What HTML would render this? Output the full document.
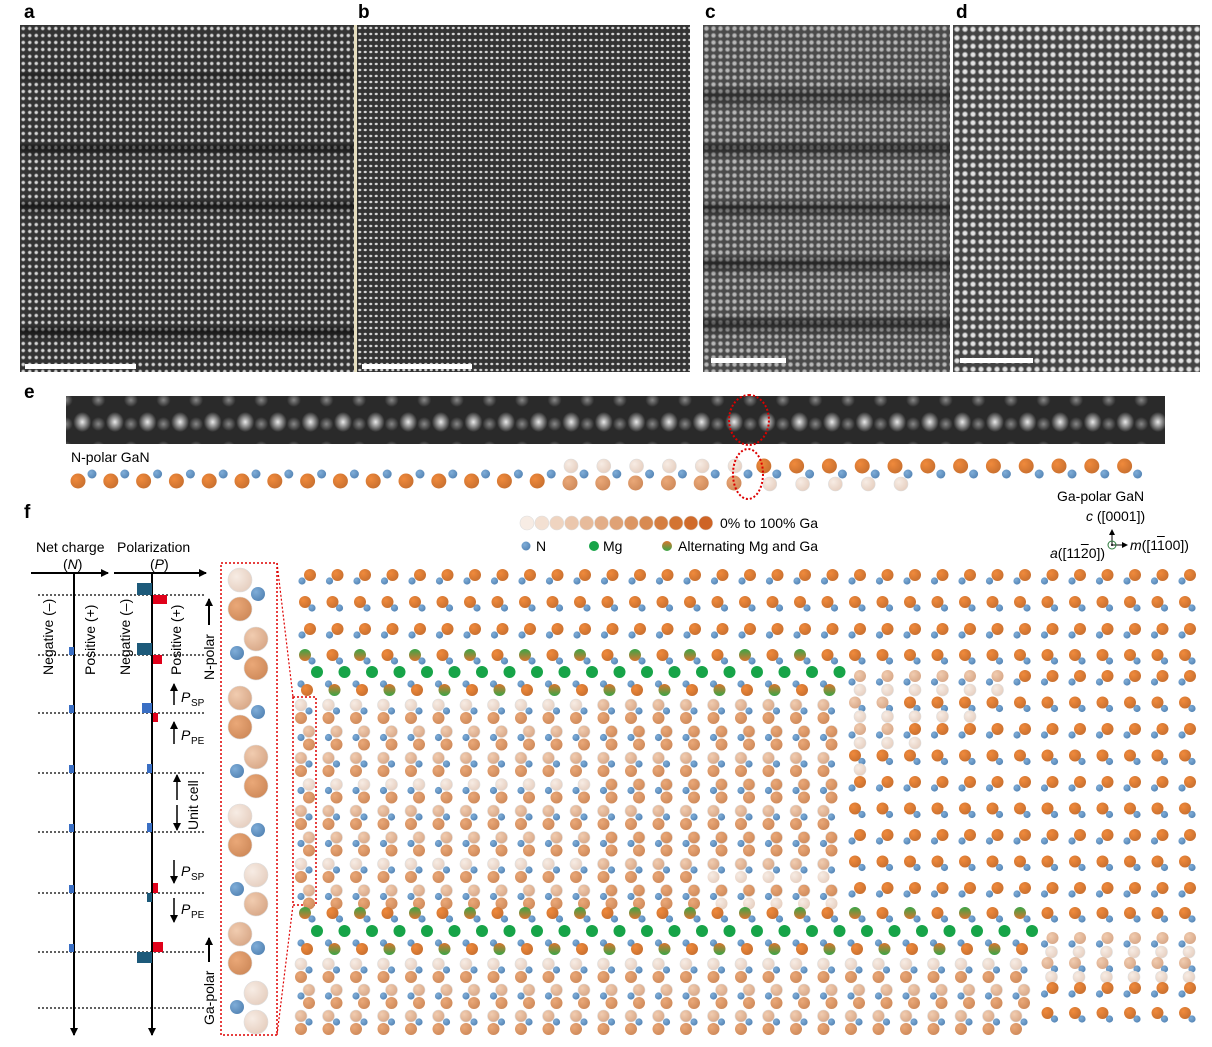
<!DOCTYPE html>
<html><head><meta charset="utf-8">
<style>
body{margin:0;background:#fff;width:1212px;height:1047px;overflow:hidden;position:relative;font-family:"Liberation Sans",sans-serif;}
.lbl{position:absolute;font-weight:bold;font-size:19px;color:#000;}
.img{position:absolute;}
.bar{position:absolute;height:5px;background:#fff;}
</style></head><body>
<div class="lbl" style="left:24px;top:2px">a</div>
<div class="lbl" style="left:358px;top:2px">b</div>
<div class="lbl" style="left:705px;top:2px">c</div>
<div class="lbl" style="left:956px;top:2px">d</div>
<div class="lbl" style="left:24px;top:382px">e</div>
<div class="lbl" style="left:24px;top:502px">f</div>

<div class="img" style="left:20px;top:25px;width:334px;height:347px;background:
linear-gradient(180deg,transparent 45px,rgba(0,0,0,.3) 50px,transparent 58px,transparent 118px,rgba(0,0,0,.55) 122px,transparent 132px,transparent 175px,rgba(0,0,0,.55) 180px,transparent 190px,transparent 300px,rgba(0,0,0,.55) 306px,transparent 316px),
radial-gradient(circle,rgba(255,255,255,.8) 1px,rgba(255,255,255,0) 2.4px) 0 0/6.5px 7px,#333;"></div>
<div style="position:absolute;left:354px;top:25px;width:3px;height:347px;background:#e8e0c0"></div>
<div class="img" style="left:357px;top:25px;width:333px;height:347px;background:
radial-gradient(ellipse 2px 1.5px,rgba(255,255,255,.8) 60%,rgba(255,255,255,0) 100%) 0 0/5.5px 6px,#333;"></div>
<div class="img" style="left:703px;top:25px;width:247px;height:347px;background:
linear-gradient(180deg,transparent 60px,rgba(0,0,0,.4) 70px,transparent 85px,transparent 115px,rgba(0,0,0,.5) 122px,transparent 135px,transparent 175px,rgba(0,0,0,.5) 182px,transparent 195px,transparent 230px,rgba(0,0,0,.5) 238px,transparent 250px,transparent 290px,rgba(0,0,0,.5) 298px,transparent 312px),
radial-gradient(circle,rgba(255,255,255,.6) 1.3px,rgba(255,255,255,0) 3px) 0 0/7px 7px,#4a4a4a;"></div>
<div style="position:absolute;left:950px;top:25px;width:3px;height:347px;background:#fff"></div>
<div class="img" style="left:953px;top:25px;width:247px;height:347px;background:
radial-gradient(circle,rgba(255,255,255,.85) 1.6px,rgba(255,255,255,0) 3.4px) 0 0/8px 8.5px,#444;"></div>
<div class="bar" style="left:25px;top:364px;width:111px"></div>
<div class="bar" style="left:362px;top:364px;width:110px"></div>
<div class="bar" style="left:711px;top:358px;width:75px"></div>
<div class="bar" style="left:960px;top:358px;width:73px"></div>

<div class="img" style="left:66px;top:396px;width:1099px;height:48px;background:
radial-gradient(ellipse 9px 10px,rgba(255,255,255,.9),rgba(255,255,255,0)) 0 6px/32.6px 40px,
radial-gradient(ellipse 7px 7px,rgba(200,200,200,.6),rgba(255,255,255,0)) 16px -8px/32.6px 24px,#2a2a2a;"></div>
<div style="position:absolute;left:728px;top:394px;width:38px;height:48px;border:2px dotted #d00;border-radius:50%"></div>
<div style="position:absolute;left:71px;top:449px;font-size:14px">N-polar GaN</div>
<div style="position:absolute;left:1057px;top:488px;font-size:14px">Ga-polar GaN</div>
<div style="position:absolute;left:1086px;top:508px;font-size:14px"><i>c</i> ([0001])</div>
<div style="position:absolute;left:1050px;top:545px;font-size:14px"><i>a</i>([11<span style="text-decoration:overline">2</span>0])</div>
<div style="position:absolute;left:1130px;top:537px;font-size:14px"><i>m</i>([1<span style="text-decoration:overline">1</span>00])</div>
<div style="position:absolute;left:720px;top:515px;font-size:14px">0% to 100% Ga</div>
<div style="position:absolute;left:536px;top:538px;font-size:14px">N</div>
<div style="position:absolute;left:603px;top:538px;font-size:14px">Mg</div>
<div style="position:absolute;left:678px;top:538px;font-size:14px">Alternating Mg and Ga</div>
<div style="position:absolute;left:36px;top:539px;font-size:14px">Net charge</div>
<div style="position:absolute;left:63px;top:556px;font-size:14px">(<i>N</i>)</div>
<div style="position:absolute;left:117px;top:539px;font-size:14px">Polarization</div>
<div style="position:absolute;left:150px;top:556px;font-size:14px">(<i>P</i>)</div>

<svg id="s" width="1212" height="1047" style="position:absolute;left:0;top:0" xmlns="http://www.w3.org/2000/svg">
<defs>
<radialGradient id="go" cx="35%" cy="35%" r="70%"><stop offset="0" stop-color="#f08a3c"/><stop offset="1" stop-color="#c9702f"/></radialGradient>
<radialGradient id="gm" cx="35%" cy="35%" r="70%"><stop offset="0" stop-color="#eaa878"/><stop offset="1" stop-color="#cf8a5a"/></radialGradient>
<radialGradient id="gl" cx="35%" cy="35%" r="70%"><stop offset="0" stop-color="#f7ece4"/><stop offset="1" stop-color="#e6cfc0"/></radialGradient>
<radialGradient id="gt" cx="35%" cy="35%" r="70%"><stop offset="0" stop-color="#f1ccb0"/><stop offset="1" stop-color="#d8a888"/></radialGradient>
<radialGradient id="gn" cx="35%" cy="35%" r="70%"><stop offset="0" stop-color="#7fadd8"/><stop offset="1" stop-color="#5585b5"/></radialGradient>
<linearGradient id="gx" x1="0" y1="0" x2="0" y2="1"><stop offset="0" stop-color="#d9752f"/><stop offset="1" stop-color="#3aa547"/></linearGradient>
<linearGradient id="gx2" x1="0" y1="1" x2="0" y2="0"><stop offset="0" stop-color="#d9752f"/><stop offset="1" stop-color="#3aa547"/></linearGradient>
<marker id="ar" markerUnits="userSpaceOnUse" markerWidth="9" markerHeight="9" refX="7" refY="4" orient="auto"><path d="M0,0 L8,4 L0,8 z" fill="#000"/></marker>
<marker id="as" markerUnits="userSpaceOnUse" markerWidth="6" markerHeight="6" refX="5" refY="3" orient="auto"><path d="M0,0 L6,3 L0,6 z" fill="#000"/></marker>
</defs>
<g id="g"></g>
<g font-family="Liberation Sans" font-size="14" fill="#000">
<text transform="translate(53,675) rotate(-90)">Negative (–)</text>
<text transform="translate(95,675) rotate(-90)">Positive (+)</text>
<text transform="translate(130,675) rotate(-90)">Negative (–)</text>
<text transform="translate(181,675) rotate(-90)">Positive (+)</text>
<text transform="translate(214,680) rotate(-90)">N-polar</text>
<text transform="translate(198,830) rotate(-90)">Unit cell</text>
<text transform="translate(214,1025) rotate(-90)">Ga-polar</text>
<text x="181" y="702" font-style="italic">P</text><text x="191" y="706" font-size="10">SP</text>
<text x="181" y="740" font-style="italic">P</text><text x="191" y="744" font-size="10">PE</text>
<text x="181" y="876" font-style="italic">P</text><text x="191" y="880" font-size="10">SP</text>
<text x="181" y="914" font-style="italic">P</text><text x="191" y="918" font-size="10">PE</text>
</g>
</svg>
<script>
var g=document.getElementById('g'),h='';
function c(x,y,r,f,st){h+='<circle cx="'+x+'" cy="'+y+'" r="'+r+'" fill="'+f+'"'+(st?' stroke="#ddd" stroke-width="0.6"':'')+'/>';}
function ln(x1,y1,x2,y2,w,d,m,col){h+='<line x1="'+x1+'" y1="'+y1+'" x2="'+x2+'" y2="'+y2+'" stroke="'+(col||'#000')+'" stroke-width="'+w+'"'+(d?' stroke-dasharray="'+d+'"':'')+(m?' marker-end="url(#'+(m===2?'as':'ar')+')"':'')+'/>';}
function rc(x,y,w,hh,f){h+='<rect x="'+x+'" y="'+y+'" width="'+w+'" height="'+hh+'" fill="'+f+'"/>';}
var GO='url(#go)',GM='url(#gm)',GL='url(#gl)',GT='url(#gt)',N='url(#gn)',GR='#17a448';
var lc=['#f7ece4','#f3e0d2','#efd4c0','#ebc7ad','#e7bb9b','#e3ae88','#dfa276','#dc9663','#d88a51','#d57e40','#d37433','#d06b2b','#ce6426'];
for(var i=0;i<13;i++)c(527+i*14.9,523,7,lc[i],1);
c(526,546,4.5,N);c(594,546,5,GR);c(667,546,5,'url(#gx)');
ln(1112,545,1112,530,1,0,2);ln(1112,545,1127,545,1,0,2);
h+='<circle cx="1112" cy="545" r="4" fill="none" stroke="#2a7a3a" stroke-width="1"/>';c(1112,545,1,'#000');
// e row
for(var i=0;i<33;i++){var x=78+i*32.8;
 if(x<560){c(x,481,7.5,GO);c(x+14,474,4.5,N);}
 else if(x<740){c(x+1,466,7,GL,1);c(x,483,7.5,GM);c(x+14,474,4.5,N);}
 else if(x<760){c(x-3,466,7.5,GM);c(x-3,484,7.5,GL,1);c(x+10,474,4.5,N);}
 else{c(x-3,466,7.5,GO);c(x+10,474,4.5,N);if(x<930)c(x+3,484,7,GL,1);}
}
h+='<ellipse cx="748" cy="474" rx="15" ry="25" fill="none" stroke="#d00" stroke-width="2" stroke-dasharray="2,2"/>';
// left diagram
ln(31,573,108,573,2,0,1);ln(114,573,206,573,2,0,1);
ln(74,573,74,1035,2,0,1);ln(152,573,152,1035,2,0,1);
[595,655,713,773,832,893,952,1008].forEach(function(y){ln(38,y,205,y,1.2,'2,2');});
[655,713,773,832,893,952].forEach(function(y){rc(69,y-8,5,8,'#3a6fc4');});
rc(137,583,15,12,'#1d5a7a');rc(153,595,14,9,'#e0001a');
rc(137,643,15,12,'#1d5a7a');rc(153,655,9,9,'#e0001a');
rc(142,703,10,10,'#3a6fc4');rc(153,713,5,9,'#e0001a');
rc(147,764,5,9,'#3a6fc4');rc(147,823,5,9,'#3a6fc4');
rc(147,893,5,9,'#1d5a7a');rc(153,883,5,10,'#e0001a');
rc(153,942,10,10,'#e0001a');rc(137,952,15,11,'#1d5a7a');
ln(209,625,209,599,2,0,1);ln(209,962,209,938,2,0,1);
ln(174,705,174,684,1.5,0,1);ln(174,744,174,722,1.5,0,1);
ln(174,860,174,883,1.5,0,1);ln(174,898,174,922,1.5,0,1);
ln(177,800,177,775,1.5,0,1);ln(177,805,177,830,1.5,0,1);
h+='<rect x="221" y="563" width="56" height="472" fill="none" stroke="#d00" stroke-width="1.5" stroke-dasharray="2,2"/>';
h+='<rect x="293" y="697" width="23" height="208" fill="none" stroke="#d00" stroke-width="1.5" stroke-dasharray="2,2"/>';
ln(277,563,293,697,1.2,'2,2',0,'#d00');ln(277,1035,293,905,1.2,'2,2',0,'#d00');
var tops=[GL,GT,GT,GT,GL,GL,GT,GL],bots=[GM,GM,GM,GM,GM,GT,GM,GL];
for(var k=0;k<8;k++){var y=580+k*59,L=(k%2==0);var xa=L?240:256,xn=L?258:237;
 c(xa,y,12,tops[k],1);c(xn,y+14,7,N);c(xa,y+29,12,bots[k],1);}
// lattice
var R=6,RN=3.6;
function colx(j){return 307+j*27.5;}
function pairA(x,y,f){c(x+3,y-2,R,f);c(x-5,y+4,RN,N);}
function pairB(x,y,f){c(x-2,y-2,R,f);c(x+5,y+4,RN,N);}
for(var j=0;j<33;j++){var x=colx(j);
 pairA(x,577,GO);pairB(x,604,GO);pairA(x,631,GO);
 var mixed=x<850;
 pairB(x,657,mixed&&j%2==0?'url(#gx2)':GO);
 if(mixed){c(x+10,672,6,GR);
  c(x-6,684,RN,N);c(x,690,R,j%2==1?'url(#gx)':GO);
  for(var m=0;m<8;m++){var y=705+m*26.5;var o=(m%2==0)?1:-1;
   var t=(x<600)?(m%3==0?GL:GT):(m%2==0?GT:GM);
   var gx=x+(o>0?-6:2);
   c(gx,y,R,t,1);c(x+(o>0?2:-6),y+6,RN,N);c(gx,y+13,R,(x>700&&m>5)?GL:GM);}
 } else {
  for(var m=0;m<9;m++){var y=678+m*26.5;var f=GO;
   if(x<1000&&m<3&&(x<900||m<1)){f=GT;}
   (m%2==0?pairA:pairB)(x,y,f);
   if(x<(1020-m*50)&&m<4)c(x+3,y+12,R,GL,1);}
 }
 if(x<1040){
  pairB(x,915,j%2==0?'url(#gx2)':GO);
  c(x+10,931,6,GR);
  c(x-6,943,RN,N);c(x,949,R,j%2==1?'url(#gx)':GO);
  for(var m=0;m<3;m++){var y=964+m*26;var o=(m%2==0)?1:-1;var gx=x+(o>0?-6:2);
   c(gx,y,R,m==0?GL:GT,1);c(x+(o>0?2:-6),y+6,RN,N);c(gx,y+13,R,GM);}
 } else {
  pairB(x,915,GO);
  for(var m=0;m<4;m++){var y=940+m*25;(m%2==0?pairA:pairB)(x,y,m<2?GT:GO);if(m<2)c(x+2,y+12,R,GL,1);}
 }
}
g.innerHTML=h;
</script>
</body></html>
